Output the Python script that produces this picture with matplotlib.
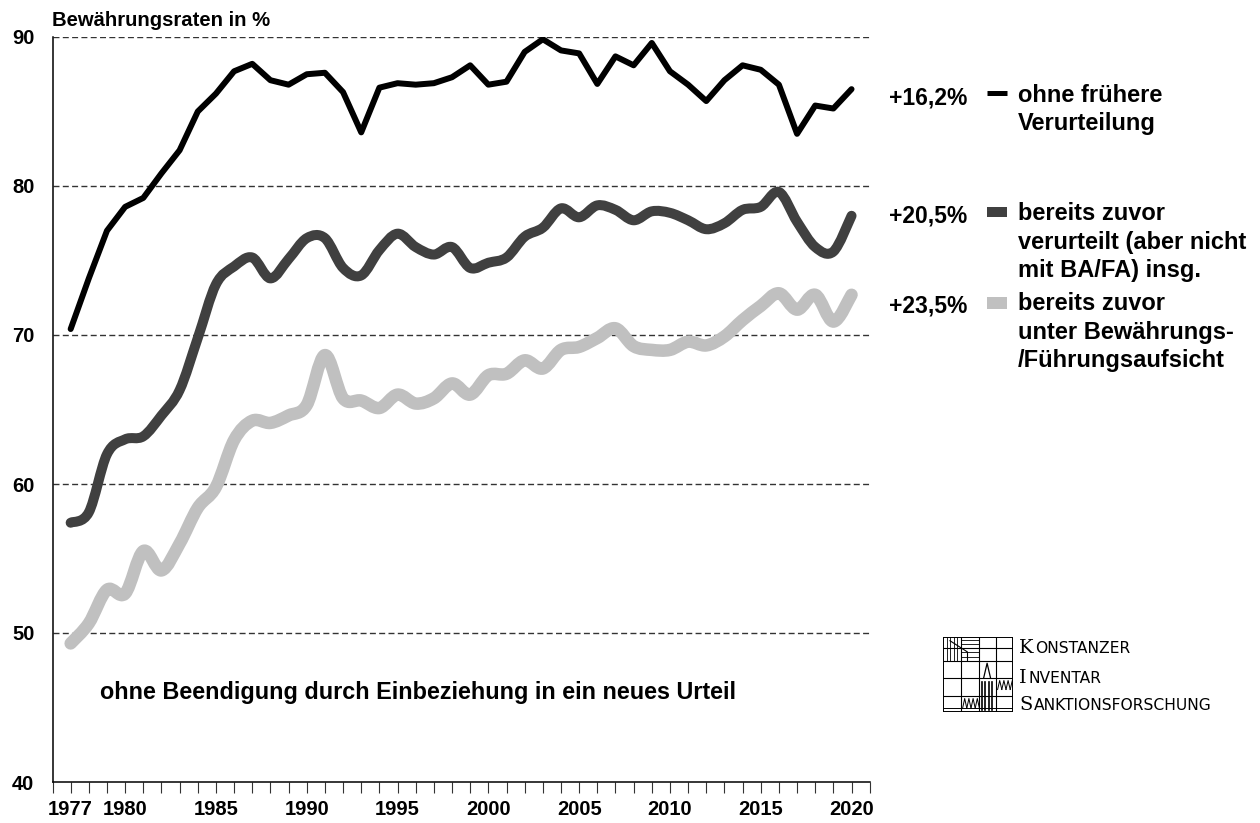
import numpy as np
import matplotlib
matplotlib.use('Agg')
import matplotlib.pyplot as plt
from matplotlib.lines import Line2D
from matplotlib.patches import Rectangle, PathPatch
from matplotlib.path import Path

plt.rcParams['font.family'] = ['Liberation Sans', 'DejaVu Sans']
plt.rcParams['font.weight'] = 'bold'

# Bewährungsraten in % nach Vorstrafenbelastung, 1977-2020
years = list(range(1977, 2021))
ohne_fruehere = [70.4, 73.8, 77.0, 78.6, 79.2, 80.85, 82.4, 85.0, 86.2, 87.7,
                 88.2, 87.1, 86.8, 87.5, 87.6, 86.3, 83.6, 86.6, 86.9, 86.8,
                 86.9, 87.3, 88.1, 86.8, 87.0, 89.0, 89.85, 89.1, 88.9, 86.85,
                 88.7, 88.1, 89.6, 87.7, 86.8, 85.7, 87.1, 88.1, 87.8, 86.8,
                 83.5, 85.4, 85.2, 86.5]
zuvor_verurteilt = [57.4, 58.1, 62.0, 63.0, 63.2, 64.6, 66.3, 69.8, 73.4, 74.6,
                    75.2, 73.8, 75.1, 76.5, 76.5, 74.5, 74.0, 75.7, 76.8, 75.9,
                    75.4, 75.9, 74.5, 74.85, 75.2, 76.6, 77.2, 78.5, 77.9, 78.7,
                    78.4, 77.7, 78.3, 78.2, 77.7, 77.1, 77.5, 78.4, 78.6, 79.6,
                    77.6, 75.9, 75.6, 78.0]
zuvor_ba_fa = [49.3, 50.65, 52.9, 52.65, 55.5, 54.2, 56.0, 58.4, 59.8, 62.95,
               64.25, 64.1, 64.6, 65.3, 68.65, 65.75, 65.6, 65.1, 66.0, 65.4,
               65.75, 66.75, 66.0, 67.3, 67.4, 68.3, 67.75, 69.0, 69.2, 69.8,
               70.45, 69.25, 69.0, 69.0, 69.55, 69.3, 69.9, 71.0, 71.95, 72.8,
               71.7, 72.7, 70.9, 72.7]

label_years = [1977, 1980, 1985, 1990, 1995, 2000, 2005, 2010, 2015, 2020]
y_ticks = [40, 50, 60, 70, 80, 90]

serien = [
    ('+16,2%', ['ohne frühere', 'Verurteilung'], '#000000'),
    ('+20,5%', ['bereits zuvor', 'verurteilt (aber nicht', 'mit BA/FA) insg.'], '#404040'),
    ('+23,5%', ['bereits zuvor', 'unter Bewährungs-', '/Führungsaufsicht'], '#c0c0c0'),
]

W, H = 1260, 823


def px(x, y):
    return x / W, 1 - y / H


def smooth_path(xs, ys):
    # geglättete Linie wie in Excel: Bezier-Kurve durch alle Datenpunkte
    p = np.column_stack([xs, ys]).astype(float)
    p_ext = np.vstack([p[0], p, p[-1]])
    verts = [p[0]]
    codes = [Path.MOVETO]
    for i in range(len(p) - 1):
        a, b, c, d = p_ext[i], p_ext[i + 1], p_ext[i + 2], p_ext[i + 3]
        verts += [b + (c - a) / 6, c - (d - b) / 6, c]
        codes += [Path.CURVE4] * 3
    return Path(verts, codes)


fig = plt.figure(figsize=(W / 100, H / 100), dpi=100)
ax = fig.add_axes([52.5 / W, 1 - 782 / H, (869.7 - 52.5) / W, (782 - 37) / H])
ax.set_xlim(1976, 2021)
ax.set_ylim(40, 90)

for v in y_ticks[1:]:
    ax.axhline(v, color='#333333', lw=1.0, dashes=(4.3, 2.4), zorder=1)

for ys, col, lw, z in [(zuvor_ba_fa, serien[2][2], 9, 3),
                       (zuvor_verurteilt, serien[1][2], 7.2, 4)]:
    ax.add_patch(PathPatch(smooth_path(years, ys), fill=False, edgecolor=col, lw=lw,
                           joinstyle='round', capstyle='round', zorder=z))
ax.plot(years, ohne_fruehere, color=serien[0][2], lw=4.3, solid_joinstyle='round',
        solid_capstyle='round', zorder=5)

for s in ['top', 'right']:
    ax.spines[s].set_visible(False)
ax.spines['left'].set_linewidth(1.1)
ax.spines['bottom'].set_linewidth(1.1)

ax.set_yticks(y_ticks)
ax.set_yticklabels([str(v) for v in y_ticks])
ax.tick_params(axis='y', length=0, pad=13, labelsize=14.5)
ax.set_xticks(list(range(1976, 2022)))
ax.set_xticklabels([str(y) if y in label_years else '' for y in range(1976, 2022)])
ax.tick_params(axis='x', length=8, width=0.8, color='#333333', direction='out',
               pad=5, labelsize=14.5)

fig.text(*px(52, 26), 'Bewährungsraten in %', fontsize=14.6, va='baseline')

fig.text(*px(100, 699), 'ohne Beendigung durch Einbeziehung in ein neues Urteil',
         fontsize=16.8, va='baseline')

# Legende rechts
leg_pos = [(93, 101.5, 5), (212, 220, 10), (303, 310, 12)]
for (pct, lines, col), (ys, base, thick) in zip(serien, leg_pos):
    fig.text(*px(967, base + 3), pct, fontsize=16.5, ha='right', va='baseline')
    x0, y0 = px(987, ys)
    x1, _ = px(1007, ys)
    fig.add_artist(Line2D([x0, x1], [y0, y0], color=col, lw=thick * 0.72,
                          solid_capstyle='butt', transform=fig.transFigure))
    for i, t in enumerate(lines):
        fig.text(*px(1018, base + i * 28.7), t, fontsize=17, va='baseline')

# Logo KIS
lax = fig.add_axes([943 / W, 1 - 712 / H, 70 / W, 75 / H])
lax.set_xlim(0, 1)
lax.set_ylim(0, 1)
lax.axis('off')
lax.add_patch(Rectangle((0, 0), 1, 1, fill=False, lw=1.4, color='black'))
for xv in [0.26, 0.52, 0.75]:
    lax.plot([xv, xv], [0, 1], color='black', lw=0.8)
for yv in [0.22, 0.45, 0.68, 0.85]:
    lax.plot([0, 1], [yv, yv], color='black', lw=0.8)
for xv in [0.05, 0.1, 0.15, 0.2]:
    lax.plot([xv, xv], [0.68, 1], color='black', lw=0.6)
for yv in [0.74, 0.8, 0.91, 0.96]:
    lax.plot([0.26, 0.52], [yv, yv], color='black', lw=0.6)
lax.plot([0.1, 0.35, 0.35], [0.95, 0.8, 0.68], color='black', lw=0.8)
for xv in [0.55, 0.6, 0.65, 0.7]:
    lax.plot([xv, xv], [0.03, 0.4], color='black', lw=1.2)
lax.plot([0.58, 0.63, 0.68], [0.45, 0.65, 0.45], color='black', lw=0.9)
for xv in np.arange(0.28, 0.5, 0.06):
    lax.plot([xv, xv + 0.03, xv + 0.06], [0.05, 0.18, 0.05], color='black', lw=0.7)
for xv in np.arange(0.78, 0.98, 0.06):
    lax.plot([xv, xv + 0.03, xv + 0.06], [0.3, 0.42, 0.3], color='black', lw=0.7)
lax.plot([0.02, 0.98], [0.05, 0.05], color='black', lw=0.7)

logo = [('K', 'ONSTANZER', 653), ('I', 'NVENTAR', 683),
        ('S', 'ANKTIONSFORSCHUNG', 710)]
renderer = fig.canvas.get_renderer()
for big, rest, base in logo:
    tb = fig.text(*px(1019, base), big, fontsize=14, fontweight='normal',
                  family=['DejaVu Serif'], va='baseline')
    x_end = tb.get_window_extent(renderer).x1
    fig.text(x_end / W + 1.5 / W, 1 - base / H, rest, fontsize=11.2,
             fontweight='normal', family=['DejaVu Sans'], va='baseline')

fig.savefig('out.png', dpi=100)
